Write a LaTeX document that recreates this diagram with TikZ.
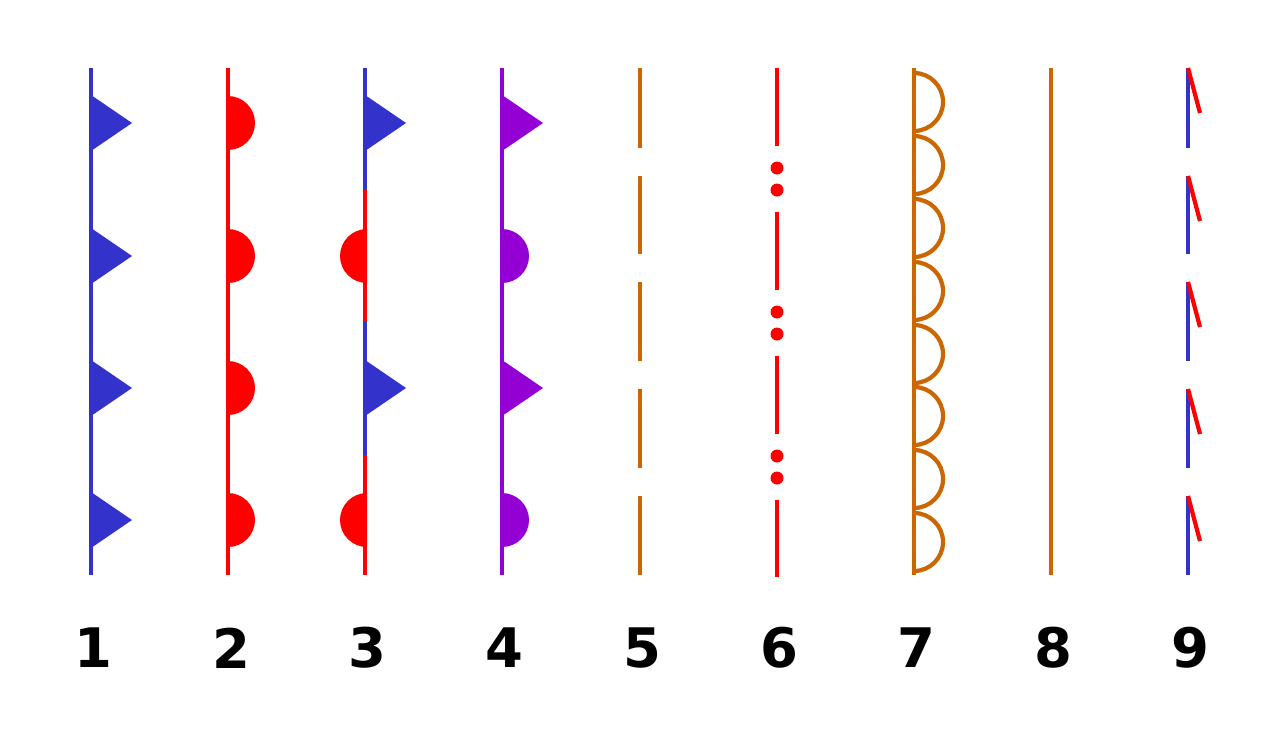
\documentclass[tikz,border=0pt]{standalone}
\usepackage{fontspec}
\setmainfont{DejaVu Sans}
\definecolor{fblue}{HTML}{3333CC}
\definecolor{fred}{HTML}{FF0000}
\definecolor{fpurple}{HTML}{9400D3}
\definecolor{forange}{HTML}{CC6600}
\tikzset{
  front/.style={line width=2.4pt},
  lbl/.style={font=\bfseries\fontsize{31}{34}\selectfont}
}
\begin{document}
\begin{tikzpicture}[x=0.02cm,y=-0.02cm]
        \useasboundingbox (0,0) rectangle (1280,731);
        % 1 cold
        \draw[front, fblue] (91,68) -- (91,575);
        \foreach \y in {123,256,388,520}
          \fill[fblue] (91,\y-28) -- (132,\y) -- (91,\y+28) -- cycle;
        % 2 warm
        \draw[front, fred] (228,68) -- (228,575);
        \foreach \y in {123,256,388,520}
          \fill[fred] (228,\y-27) arc (-90:90:27) -- cycle;
        % 3 stationary
        \draw[front, fblue] (365,68) -- (365,189);
        \draw[front, fred] (365,189) -- (365,322);
        \draw[front, fblue] (365,322) -- (365,455);
        \draw[front, fred] (365,455) -- (365,575);
        \foreach \y in {123,388}
          \fill[fblue] (365,\y-28) -- (406,\y) -- (365,\y+28) -- cycle;
        \foreach \y in {256,520}
          \fill[fred] (367,\y-27) arc (-90:-270:27) -- cycle;
        % 4 occluded
        \draw[front, fpurple] (502,68) -- (502,575);
        \foreach \y in {123,388}
          \fill[fpurple] (502,\y-28) -- (543,\y) -- (502,\y+28) -- cycle;
        \foreach \y in {256,520}
          \fill[fpurple] (502,\y-27) arc (-90:90:27) -- cycle;
        % 5 trough
        \foreach \a/\b in {68/148,176/254,282/361,389/468,496/575}
          \draw[front, forange] (640,\a) -- (640,\b);
        % 6 squall line
        \foreach \a/\b in {68/146,212/290,356/434,500/577}
          \draw[front, fred] (777,\a) -- (777,\b);
        \foreach \y in {168,190,312,334,456,478}
          \fill[fred] (777,\y) circle (6.5);
        % 7 dry line
        \draw[front, forange] (914,68) -- (914,575);
        \foreach \y in {102,165,228,291,354,416,479,542}
          \draw[front, forange] (914,\y-29) arc (-90:90:29);
        % 8 tropical wave
        \draw[front, forange] (1051,68) -- (1051,575);
        % 9 outflow
        \foreach \a/\b in {68/148,176/254,282/361,389/468,496/575}{
          \draw[front, fblue] (1188,\a) -- (1188,\b);
          \draw[front, fred] (1188,\a) -- (1200,\a+45);
        }
        % labels
        \foreach \i/\x in {1/93,2/231,3/367,4/504,5/642,6/779,7/916,8/1053,9/1190}
          \node[lbl] (l\i) at (\x,648) {\i};
\end{tikzpicture}
\end{document}
